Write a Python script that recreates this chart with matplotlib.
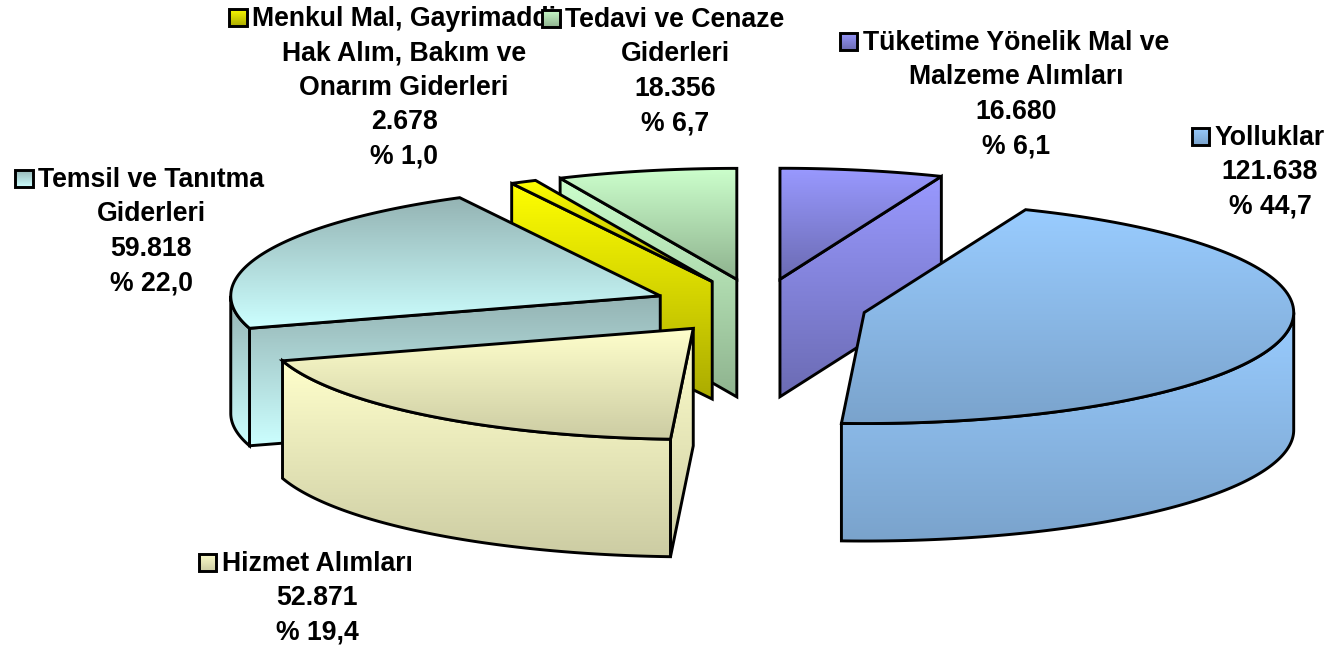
#!/usr/bin/python
# -*- coding: UTF-8 -*-
import numpy as np
from matplotlib import pyplot as plt
from matplotlib.patches import Polygon
from matplotlib.colors import to_rgb

# clockwise from 12 o'clock
names = [
    ["Tüketime Yönelik Mal ve", "Malzeme Alımları"],
    ["Yolluklar"],
    ["Hizmet Alımları"],
    ["Temsil ve Tanıtma", "Giderleri"],
    ["Menkul Mal, Gayrimaddi", "Hak Alım, Bakım ve", "Onarım Giderleri"],
    ["Tedavi ve Cenaze", "Giderleri"],
]
values = [16680, 121638, 52871, 59818, 2678, 18356]
value_labels = ["16.680", "121.638", "52.871", "59.818", "2.678", "18.356"]
pct_labels = ["% 6,1", "% 44,7", "% 19,4", "% 22,0", "% 1,0", "% 6,7"]
top_colors = ["#9999FF", "#99CCFF", "#FFFFCC", "#94B3B3", "#FFFF00", "#CCFFCC"]
bottom_colors = ["#6B6BB3", "#7AA3CC", "#CCCCA3", "#CCFFFF", "#ABAB00", "#8FB38F"]

# label places in pixels: centre x, first baseline
label_x = [1016, 1270, 317, 151, 404, 675]
label_y = [50, 145, 571, 187, 26, 27]
line_step = 34.4
font_px = 26.6

# pie geometry in pixels
cx, cy = 759.4, 306.5
rx, ry = 429.5, 111.0
depth = 117.5
explode = 0.25
line_w = 2.1

# painter's order, back to front
draw_order = [5, 4, 0, 3, 2, 1]

plt.rcParams['font.family'] = ['Liberation Sans', 'DejaVu Sans']

fig = plt.figure(figsize=(13.32, 6.47), dpi=100)
ax = fig.add_axes([0, 0, 1, 1])
ax.axis('off')
ax.set_xlim(0, 1332)
ax.set_ylim(647, 0)

zo = [1]


def rim(ox, oy, a, b, n=120):
    t = np.radians(np.linspace(a, b, n))
    return np.column_stack([ox + rx * np.sin(t), oy - ry * np.cos(t)])


def gradient_face(pts, c1, c2):
    # vertical gradient clipped to a polygon, black outline on top
    zo[0] += 1
    c1 = np.array(to_rgb(c1))
    c2 = np.array(to_rgb(c2))
    f = np.linspace(0, 1, 256)[:, None, None]
    img = c1[None, None, :] * (1 - f) + c2[None, None, :] * f
    x0, x1 = pts[:, 0].min(), pts[:, 0].max()
    y0, y1 = pts[:, 1].min(), pts[:, 1].max()
    im = ax.imshow(img, extent=(x0, x1, y1, y0), aspect='auto', zorder=zo[0],
                   interpolation='bilinear')
    poly = Polygon(pts, closed=True, fc='none', ec='black', lw=line_w,
                   joinstyle='miter', zorder=zo[0] + 0.5)
    ax.add_patch(poly)
    im.set_clip_path(poly)


def cut_face(ox, oy, ang, c1, c2):
    p = rim(ox, oy, ang, ang, 1)[0]
    pts = np.array([[ox, oy], p, [p[0], p[1] + depth], [ox, oy + depth]])
    gradient_face(pts, c1, c2)


def draw_slice(i, start, end):
    mid = np.radians((start + end) / 2.0)
    ox = cx + explode * rx * np.sin(mid)
    oy = cy - explode * ry * np.cos(mid)
    c1, c2 = top_colors[i], bottom_colors[i]

    if np.sin(np.radians(end)) > 0.001:
        cut_face(ox, oy, end, c1, c2)
    if np.sin(np.radians(start)) < -0.001:
        cut_face(ox, oy, start, c1, c2)

    # outer wall, only the part turned to the viewer
    a, b = max(start, 90), min(end, 270)
    if a < b:
        arc = rim(ox, oy, a, b)
        low = arc + [0, depth]
        gradient_face(np.vstack([arc, low[::-1]]), c1, c2)

    top = np.vstack([[ox, oy], rim(ox, oy, start, end)])
    gradient_face(top, c1, c2)


angles = np.concatenate([[0], np.cumsum(values) / float(sum(values)) * 360.0])
for i in draw_order:
    draw_slice(i, angles[i], angles[i + 1])

# labels
zo[0] += 10
for i in range(len(values)):
    lines = names[i] + [value_labels[i], pct_labels[i]]
    for j, s in enumerate(lines):
        t = ax.text(label_x[i], label_y[i] + j * line_step, s, ha='center', va='baseline',
                    fontsize=font_px * 0.72, fontweight='bold', color='black', zorder=zo[0])
        if j == 0:
            first = t

    # the key sits left of the first line, text centring ignores it
    fig.canvas.draw()
    box = first.get_window_extent()
    kx = box.x0 - 23
    ky = label_y[i] - 17.5
    k = np.array([[kx, ky], [kx + 17.5, ky], [kx + 17.5, ky + 17.5], [kx, ky + 17.5]])
    zo[0] += 10
    gradient_face(k, top_colors[i], bottom_colors[i])

fig.savefig("out.png", dpi=100, facecolor='white')
